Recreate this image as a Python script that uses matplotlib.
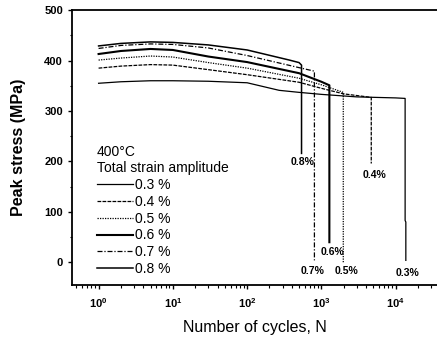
import matplotlib
matplotlib.use("Agg")
import matplotlib.pyplot as plt
from matplotlib.ticker import LogLocator, MultipleLocator, NullFormatter

plt.rcParams["font.family"] = ["Liberation Sans", "DejaVu Sans"]
plt.rcParams["mathtext.fontset"] = "custom"
plt.rcParams["mathtext.rm"] = "Liberation Sans"
plt.rcParams["mathtext.it"] = "Liberation Sans"
plt.rcParams["mathtext.bf"] = "Liberation Sans:bold"

# peak stress (MPa) vs cycles
n_03 = [1, 2, 5, 10, 30, 100, 270, 500, 1000, 3000, 10000, 13400, 13400, 13700, 13700]
s_03 = [355, 358, 360, 360, 359, 356, 341, 337, 333, 328, 326, 325, 83, 80, 4]

n_04 = [1, 2, 5, 10, 30, 100, 500, 1000, 2000, 4690, 4690]
s_04 = [385, 389, 392, 391, 382, 372, 357, 345, 334, 327, 196]

n_05 = [1, 2, 5, 10, 30, 100, 500, 1000, 1970, 1970]
s_05 = [401, 405, 409, 407, 396, 385, 365, 352, 337, 0]

n_06 = [1, 2, 5, 10, 30, 100, 500, 1000, 1280, 1280]
s_06 = [413, 419, 423, 421, 408, 397, 375, 358, 351, 40]

n_07 = [1, 2, 5, 10, 30, 100, 500, 805, 805]
s_07 = [424, 430, 433, 432, 425, 410, 386, 379, 4]

n_08 = [1, 2, 5, 10, 30, 100, 370, 500, 540, 540]
s_08 = [429, 434, 437, 436, 431, 421, 401, 396, 391, 216]

labels = ["0.3 %", "0.4 %", "0.5 %", "0.6 %", "0.7 %", "0.8 %"]

# failure labels next to the drops
fail_text = ["0.8%", "0.6%", "0.7%", "0.5%", "0.4%", "0.3%"]
fail_n = [556, 1400, 760, 2170, 5150, 14300]
fail_s = [198, 20, -18, -18, 173, -22]

fig = plt.figure(figsize=(4.37, 3.37), dpi=100)
ax = fig.add_axes([0.165, 0.154, 0.835, 0.816])

series = [(n_03, s_03), (n_04, s_04), (n_05, s_05), (n_06, s_06), (n_07, s_07), (n_08, s_08)]
styles = [
    dict(ls="-", lw=0.9),
    dict(ls=(0, (3, 1)), lw=0.9),
    dict(ls=(0, (1, 1)), lw=0.9),
    dict(ls="-", lw=1.5),
    dict(ls=(0, (4, 1.5, 1, 1.5)), lw=0.9),
    dict(ls="-", lw=1.1),
]
handles = []
for (n, s), st, lab in zip(series, styles, labels):
    (h,) = ax.plot(n, s, color="black", label=lab, **st)
    handles.append(h)

for t, n, s in zip(fail_text, fail_n, fail_s):
    ax.text(n, s, t, ha="center", va="center", fontsize=7.5, fontweight="bold")

ax.set_xscale("log")
ax.set_xlim(0.44, 3.6e4)
ax.set_ylim(-45, 500)
ax.yaxis.set_major_locator(MultipleLocator(100))
ax.yaxis.set_minor_locator(MultipleLocator(50))
ax.xaxis.set_major_locator(LogLocator(base=10, numticks=10))
ax.xaxis.set_minor_locator(LogLocator(base=10, subs=range(2, 10), numticks=20))
ax.xaxis.set_minor_formatter(NullFormatter())

ax.spines["right"].set_visible(False)
for side in ("left", "bottom", "top"):
    ax.spines[side].set_linewidth(1.3)
ax.tick_params(which="major", direction="out", length=3, width=1, labelsize=8)
ax.tick_params(axis="x", which="major", pad=5)
ax.tick_params(which="minor", direction="out", length=1.8, width=0.8)
ax.tick_params(axis="x", which="both", top=False)
for lbl in ax.get_yticklabels() + ax.get_xticklabels():
    lbl.set_fontweight("bold")

ax.set_xlabel("Number of cycles, N", fontsize=11.5, labelpad=7)
ax.set_ylabel("Peak stress (MPa)", fontsize=11.5, fontweight="bold", labelpad=13)

ax.text(0.068, 0.484, "400°C", transform=ax.transAxes, fontsize=10, va="center")
ax.text(0.068, 0.425, "Total strain amplitude", transform=ax.transAxes, fontsize=10, va="center")
ax.legend(handles=handles, loc="upper left", bbox_to_anchor=(0.068, 0.389), frameon=False,
          fontsize=10, handlelength=2.6, handletextpad=0.15, labelspacing=0.2, borderpad=0,
          borderaxespad=0)

fig.savefig("out.png", dpi=100)
